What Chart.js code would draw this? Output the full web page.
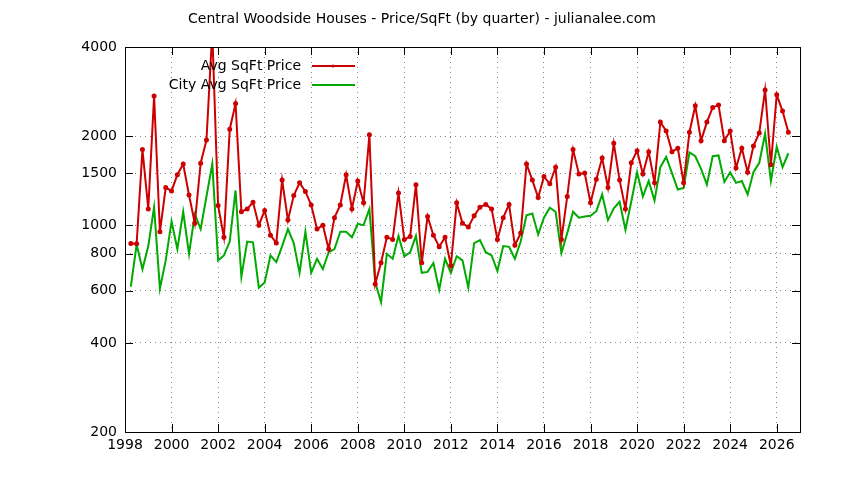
<!DOCTYPE html>
<html><head><meta charset="utf-8">
<script src="https://cdn.jsdelivr.net/npm/chart.js@4"></script>
<style>html,body{margin:0;padding:0;background:#fff}</style>
</head><body>
<canvas id="c" width="844" height="480" style="width:844px;height:480px"></canvas>
<script>
const titleText = "Central Woodside Houses - Price/SqFt (by quarter) - julianalee.com";
const seriesNames = ["Avg SqFt Price", "City Avg SqFt Price"];
const firstQuarter = 1998.25;
const avgPrice = [867,865,1800,1135,2730,950,1340,1305,1480,1610,1265,1015,1620,1940,4500,1165,910,2110,2575,1110,1135,1195,1000,1120,925,870,1420,1040,1260,1390,1300,1170,970,1000,830,1060,1170,1480,1135,1410,1190,2020,633,746,910,895,1285,895,915,1370,746,1070,925,845,910,730,1190,1015,985,1075,1150,1175,1135,895,1060,1175,855,940,1610,1420,1240,1460,1380,1570,895,1250,1800,1490,1500,1190,1430,1685,1340,1890,1420,1135,1625,1785,1490,1770,1390,2230,2080,1770,1820,1390,2060,2530,1930,2230,2500,2545,1930,2080,1560,1820,1510,1850,2050,2865,1600,2760,2430,2060];
const cityPrice = [620,860,710,850,1150,610,760,1030,830,1110,800,1090,970,1250,1610,760,790,880,1310,670,880,875,615,640,790,750,850,970,870,690,950,690,770,710,810,830,950,950,910,1010,1000,1135,640,550,800,770,920,785,810,920,690,695,745,605,770,690,785,760,615,870,890,810,790,700,850,845,770,880,1080,1095,930,1060,1145,1110,805,940,1110,1060,1070,1075,1115,1270,1040,1140,1200,965,1200,1510,1250,1410,1210,1570,1700,1500,1320,1335,1760,1710,1550,1370,1710,1720,1400,1510,1390,1410,1270,1510,1625,2035,1410,1840,1570,1750];
const yTicks = [200,400,600,800,1000,1500,2000,4000];
const xTicks = [1998,2000,2002,2004,2006,2008,2010,2012,2014,2016,2018,2020,2022,2024,2026];

const quarters = avgPrice.map((_, i) => firstQuarter + i * 0.25);
const toPts = arr => arr.map((v, i) => ({x: quarters[i], y: v}));
const FONT = '"DejaVu Sans", sans-serif';

const deco = {
  id: 'deco',
  afterDraw(chart) {
    const {ctx, chartArea: a} = chart;
    ctx.save();
    ctx.strokeStyle = '#000'; ctx.lineWidth = 1;
    ctx.strokeRect(a.left + 0.5, a.top + 0.5, a.right - a.left, a.bottom - a.top);
    const ys = chart.scales.y, xs = chart.scales.x;
    ctx.beginPath();
    yTicks.forEach(t => { const p = Math.round(ys.getPixelForValue(t)) + 0.5;
      ctx.moveTo(a.left, p); ctx.lineTo(a.left + 8, p); ctx.moveTo(a.right, p); ctx.lineTo(a.right - 8, p); });
    xTicks.forEach(t => { const p = Math.round(xs.getPixelForValue(t)) + 0.5;
      ctx.moveTo(p, a.bottom); ctx.lineTo(p, a.bottom - 8); ctx.moveTo(p, a.top); ctx.lineTo(p, a.top + 8); });
    ctx.stroke();
    ctx.fillStyle = '#000';
    ctx.font = '14px ' + FONT;
    ctx.textAlign = 'center'; ctx.textBaseline = 'middle';
    ctx.fillText(titleText, 422, 19);
    ctx.textAlign = 'right';
    const items = [[seriesNames[0], '#cc0000', true, 66], [seriesNames[1], '#00aa00', false, 85]];
    items.forEach(([t, c, pt, y]) => {
      ctx.fillStyle = '#000'; ctx.fillText(t, 301, y);
      ctx.strokeStyle = c; ctx.lineWidth = 2;
      ctx.beginPath(); ctx.moveTo(312, y); ctx.lineTo(355, y); ctx.stroke();
      if (pt) { ctx.fillStyle = c; ctx.beginPath(); ctx.arc(333, y, 1.5, 0, Math.PI * 2); ctx.fill(); }
    });
    ctx.restore();
  }
};

new Chart(document.getElementById('c'), {
  type: 'line',
  data: { datasets: [
    { label: seriesNames[0], data: toPts(avgPrice), borderColor: '#cc0000', backgroundColor: '#cc0000', borderWidth: 2, pointRadius: 1.5, pointHoverRadius: 1.5, tension: 0 },
    { label: seriesNames[1], data: toPts(cityPrice), borderColor: '#00aa00', backgroundColor: '#00aa00', borderWidth: 2, pointRadius: 0, tension: 0 }
  ]},
  options: {
    responsive: false, animation: false, devicePixelRatio: 1,
    layout: { padding: { top: 47, right: 44, left: 0, bottom: 0 } },
    plugins: { legend: { display: false }, title: { display: false }, tooltip: { enabled: false } },
    scales: {
      x: { type: 'linear', min: 1998, max: 2027,
        afterBuildTicks: s => { s.ticks = xTicks.map(v => ({value: v})); },
        afterFit: s => { s.height = 48; },
        grid: { color: '#888', drawTicks: false },
        border: { display: false, dash: [1, 4] },
        ticks: { color: '#000', font: { size: 14, family: FONT }, padding: 5, maxRotation: 0, callback: v => String(v) } },
      y: { type: 'logarithmic', min: 200, max: 4000,
        afterBuildTicks: s => { s.ticks = yTicks.map(v => ({value: v})); },
        afterFit: s => { s.width = 125; },
        grid: { color: '#888', drawTicks: false },
        border: { display: false, dash: [1, 4] },
        ticks: { color: '#000', font: { size: 14, family: FONT }, padding: 8, callback: v => String(v) } }
    }
  },
  plugins: [deco]
});
</script>
</body></html>
